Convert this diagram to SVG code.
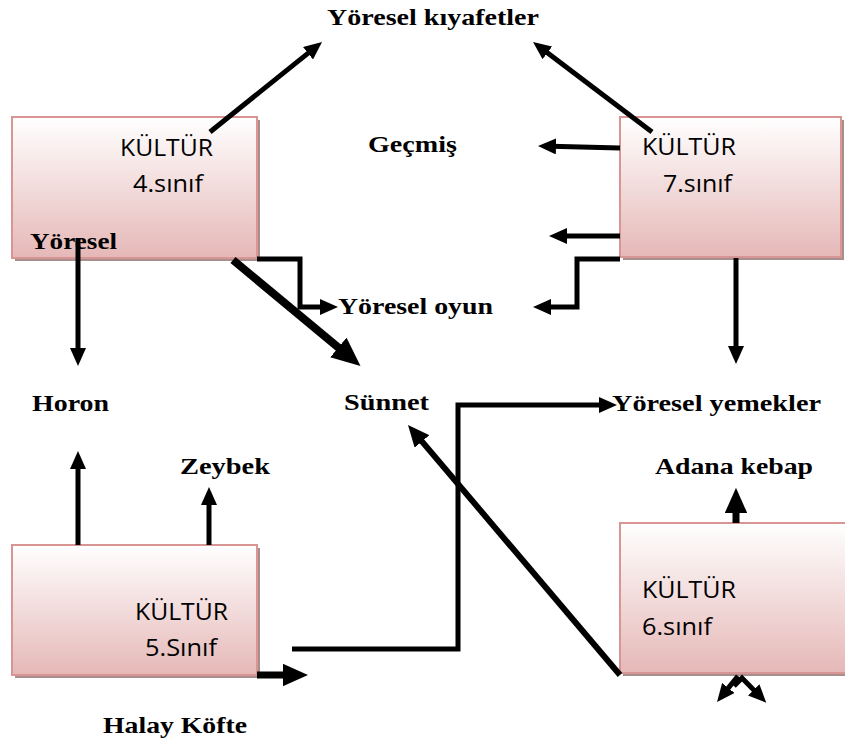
<svg xmlns="http://www.w3.org/2000/svg" width="845" height="744" viewBox="0 0 845 744">
<defs>
<linearGradient id="g" x1="0" y1="0" x2="0" y2="1">
<stop offset="0" stop-color="#ffffff"/>
<stop offset="1" stop-color="#e5b8b7"/>
</linearGradient>
<marker id="ah" viewBox="0 0 3.6 3.2" refX="1" refY="1.6" markerWidth="3.6" markerHeight="3.2" orient="auto" markerUnits="strokeWidth">
<path d="M0,0 L3.6,1.6 L0,3.2 z" fill="#000"/>
</marker>
<style>
.box{fill:url(#g);stroke:#d99594;stroke-width:2}
.sh{fill:#a88f8f}
.s{font-family:"Open Sans","Noto Sans",sans-serif;font-size:23px;fill:#000}
.b{font-family:"Liberation Serif","Times New Roman",serif;font-weight:bold;font-size:24px;fill:#000}
.c{fill:none;stroke:#000;stroke-width:5;marker-end:url(#ah)}
.t{stroke-width:7}
</style>
</defs>
<g id="n4">
<rect class="sh" x="15" y="120" width="245" height="141"/>
<rect class="box" x="12" y="117" width="245" height="141"/>
<text class="s" x="120" y="156" textLength="93" lengthAdjust="spacingAndGlyphs">KÜLTÜR</text>
<text class="s" x="133" y="192" textLength="70" lengthAdjust="spacingAndGlyphs">4.sınıf</text>
<text class="b" x="30" y="249" textLength="87" lengthAdjust="spacingAndGlyphs">Yöresel</text>
</g>
<g id="n7">
<rect class="sh" x="623" y="120" width="221" height="140"/>
<rect class="box" x="620" y="117" width="221" height="140"/>
<text class="s" x="642" y="155" textLength="94" lengthAdjust="spacingAndGlyphs">KÜLTÜR</text>
<text class="s" x="663" y="192" textLength="69" lengthAdjust="spacingAndGlyphs">7.sınıf</text>
</g>
<g id="n5">
<rect class="sh" x="15" y="548" width="245" height="130"/>
<rect class="box" x="12" y="545" width="245" height="130"/>
<text class="s" x="135" y="620" textLength="93" lengthAdjust="spacingAndGlyphs">KÜLTÜR</text>
<text class="s" x="145" y="656" textLength="72" lengthAdjust="spacingAndGlyphs">5.Sınıf</text>
</g>
<g id="n6">
<rect class="sh" x="623" y="526" width="240" height="150"/>
<rect class="box" x="620" y="523" width="240" height="150"/>
<text class="s" x="642" y="598" textLength="94" lengthAdjust="spacingAndGlyphs">KÜLTÜR</text>
<text class="s" x="642" y="635" textLength="70" lengthAdjust="spacingAndGlyphs">6.sınıf</text>
</g>
<g id="labels">
<text class="b" x="327" y="25" textLength="212" lengthAdjust="spacingAndGlyphs">Yöresel kıyafetler</text>
<text class="b" x="368" y="152" textLength="89" lengthAdjust="spacingAndGlyphs">Geçmiş</text>
<text class="b" x="338" y="314" textLength="155" lengthAdjust="spacingAndGlyphs">Yöresel oyun</text>
<text class="b" x="344" y="410" textLength="85" lengthAdjust="spacingAndGlyphs">Sünnet</text>
<text class="b" x="612" y="411" textLength="209" lengthAdjust="spacingAndGlyphs">Yöresel yemekler</text>
<text class="b" x="32" y="411" textLength="77" lengthAdjust="spacingAndGlyphs">Horon</text>
<text class="b" x="180" y="474" textLength="90" lengthAdjust="spacingAndGlyphs">Zeybek</text>
<text class="b" x="655" y="474" textLength="158" lengthAdjust="spacingAndGlyphs">Adana kebap</text>
<text class="b" x="103" y="733" textLength="144" lengthAdjust="spacingAndGlyphs">Halay Köfte</text>
</g>
<g id="connectors">
<path class="c" d="M210,132 L311.9,50.1"/>
<path class="c" d="M652,132 L543.4,49.8"/>
<path class="c" d="M620,148 L551,146.3"/>
<path class="c" d="M620,236 L562,236"/>
<path class="c" d="M620,259 L577,259 L577,307 L546,307"/>
<path class="c" d="M257,259 L300,259 L300,307 L325,307"/>
<path class="c" d="M233,260 L344.5,352.6" style="stroke-width:8"/>
<path class="c" d="M736,258 L736,351"/>
<path class="c" d="M78,238 L78,353"/>
<path class="c" d="M78,545 L78,464"/>
<path class="c" d="M209,545 L209,500"/>
<path class="c" d="M257,675 L290,675" style="stroke-width:7"/>
<path class="c" d="M292,649 L458,649 L458,405 L604,405"/>
<path class="c" d="M620,675 L418.1,436.9" style="stroke-width:6"/>
<path class="c t" d="M736,523 L736,506"/>
<path class="c" d="M738,676 L725.2,691.9"/>
<path class="c" d="M734,686 L742,678 L757.2,693.5"/>
</g>
</svg>
